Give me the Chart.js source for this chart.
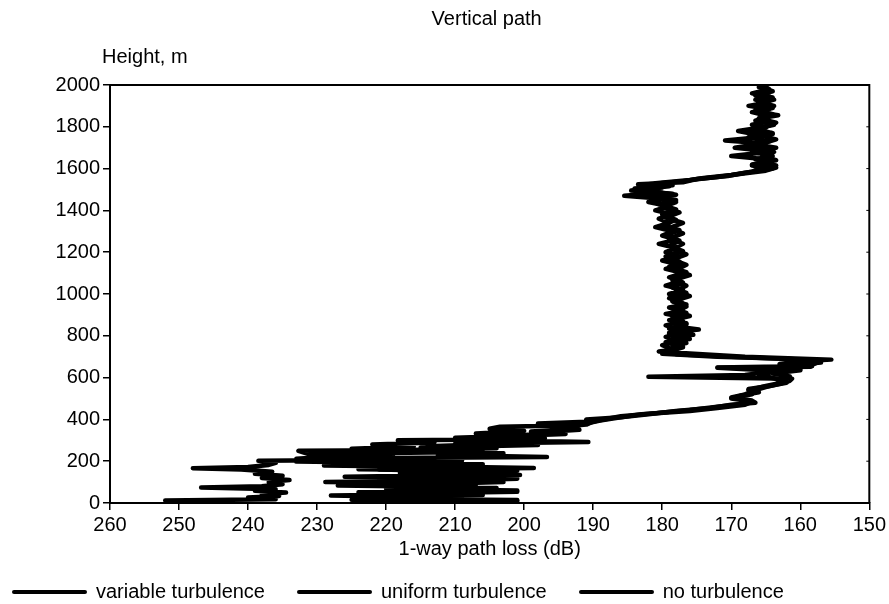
<!DOCTYPE html>
<html>
<head>
<meta charset="utf-8">
<title>Vertical path</title>
<script src="https://cdn.jsdelivr.net/npm/chart.js@4.4.1/dist/chart.umd.min.js"></script>
<style>
  body { margin: 0; background: #fff; }
  #wrap { position: relative; width: 889px; height: 604px; font-family: "Liberation Sans", Arial, sans-serif; }
  #legend { position: absolute; left: 12px; top: 580px; display: flex; gap: 32px; font-size: 20px; color: #000; }
  .item { display: flex; align-items: center; white-space: nowrap; }
  .swatch { width: 75px; height: 4px; background: #000; margin-right: 9px; border-radius: 2px; }
</style>
</head>
<body>
<div id="wrap">
  <canvas id="pathChart" width="889" height="604"></canvas>
  <div id="legend"></div>
</div>
<script>
// Text
const chartTitle = 'Vertical path';
const yTitle = 'Height, m';
const xTitle = '1-way path loss (dB)';
const seriesNames = ['variable turbulence', 'uniform turbulence', 'no turbulence'];

// Variable turbulence: height (m) and path loss (dB)
const heightVar = [12,18,26,34,42,50,58,66,74,80,90,100,110,120,130,140,150,160,166,172,
  182,192,202,206,212,220,232,250,254,260,270,280,290,300,304,312,322,332,345,355,
  365,372,380,390,400,410,
  425,440,455,470,480,490,505,520,540,555,570,585,595,604,612,625,640,648,655,665,
  678,686,700,715,725,735,745,755,765,775,785,795,805,815,830,845,860,875,890,905,
  920,935,950,965,980,1000,1020,1040,1060,1080,1100,1120,1140,1160,1180,1200,1220,1240,1260,1280,
  1300,1320,1340,1360,1380,1400,1420,1440,1455,1470,1485,1500,1515,1525,1540,1555,1570,1585,1600,1615,
  1630,1645,1660,1675,1690,1705,1720,1735,1750,1765,1780,1795,1810,1825,1840,1855,1870,1885,1900,1915,
  1930,1945,1960,1975,1990,2000];
const lossVar = [252,236,240,235.5,238,234.5,239,236,246.8,238,235,237,234,238,235,239,236.5,241,248,240,
  237,236,238.5,224,233,229,231,232.7,212,225,216,222,213,218.3,203,210,201,207,200,205,
  203.5,192,198,190,191,186,
  182,178,173,170,166.5,167,170,168,166.5,165,163,161.5,161.2,182,168,165,160,172,158.3,163,
  160,155.5,168,176,180.5,178,177,178.5,176.5,179,176,178.5,175.5,179,174.7,178,176.5,179,177,179.5,
  177,179,176.5,178.5,177,179,177,179.5,177.5,179,177,179.5,177.5,180,177.5,179.5,178,180.5,178,180,
  178.5,181,179,180.5,178.5,181,179,182,179.5,185.5,180,183.5,179,182,177,174,170,167,166,163.5,
  166,165,170,166,164.5,167,165,170.9,166,164,168,165,167,164.5,166,163.2,166,164.5,167.5,165,
  166.5,164.5,166,164.5,165.5,165];

// Uniform turbulence
const heightUni = [10,16,22,30,38,46,54,62,72,80,88,96,101,108,116,124,134,142,150,160,
  168,176,186,196,204,214,220,230,238,248,256,266,278,284,292,300,310,320,330,340,
  350,360,375,390,
  415,430,445,460,475,490,505,520,540,560,580,598,615,632,647,652,660,672,686,700,
  712,730,750,770,790,810,830,850,870,890,910,930,955,980,1005,1030,1055,1080,1105,1130,
  1155,1180,1205,1230,1255,1280,1305,1330,1355,1380,1405,1430,1450,1465,1480,1495,1510,1525,1535,1550,
  1565,1580,1600,1615,1630,1645,1660,1680,1700,1715,1730,1750,1770,1790,1810,1830,1850,1870,1890,1910,
  1930,1950,1970,1990,2000];
const lossUni = [201,225,209,222,206,218,201,214,204,216,207,212,228.8,210,201,219,200.6,213,206,221,
  198.6,215,206,222,209,226,196.7,212.5,203,218,206,215,198,210,190.7,205,197,202,194,197,
  192,196,191,190,
  186,181,176,172,168,168,169.5,167,167.5,165,162,164,166,163,172,158.5,161,157,160,170,
  178,179.5,177,179.5,177,179,177.5,179.5,177,178.5,176.5,178.5,177,179,176.5,178.5,177,178.5,176.5,179,
  177.5,179.5,177,179,177.5,179.5,177.5,180,178,180,178,180.5,178,182,178.5,184.5,180,183.5,177,175,
  170.5,168,164,167,164.5,166.5,164,167,163.5,166.5,164.5,167.5,164,166.5,163.8,166.5,164.5,167,164,166,
  163.8,166.5,164,166,165.5];

// No turbulence
const heightNone = [8,14,20,28,36,44,52,60,68,76,84,92,100,110,118,126,136,144,154,162,
  172,180,188,198,206,214,224,234,244,252,262,272,282,294,306,318,330,342,354,366,
  380,
  395,410,425,440,455,470,485,500,515,530,545,560,575,590,605,620,635,650,665,680,
  690,700,714,735,755,775,795,815,835,855,875,895,915,940,965,990,1015,1040,1065,1090,
  1115,1140,1165,1190,1215,1240,1265,1290,1315,1340,1365,1390,1415,1440,1460,1475,1490,1505,1520,1530,
  1545,1560,1575,1590,1605,1620,1640,1660,1680,1700,1720,1740,1760,1780,1800,1820,1840,1860,1880,1900,
  1920,1940,1960,1980,2000];
const lossNone = [208,201,224,214,228,207,224,201,220,210,227,212,203,221,207,226,204,218,201,224,
  211,229,209,233,213,230,219,231,208,219,204,214,204,209,199,205,197,199,193,195,
  191,
  189,186,183,176,172,168,167,170,168.5,166,167.5,164.5,162,163,161.5,164,160,161,158,157,
  162,172,180,178.5,180,177.5,179.5,177,179,176.5,178.5,176,178,176.5,178.5,176,178,176.5,178.5,176,
  178,176.5,178.5,176.5,178.5,177,179,177,179,177,179.5,177.5,180,178,180.5,178,181.5,184,178.5,181,
  176,172,168.5,165,163.5,167,163.5,165.5,163.8,169.5,165.5,163.5,166,169,165,163.5,166,164,166.5,163.8,
  166,164,167,164.5,165.5];

const fontFamily = '"Liberation Sans", Arial, sans-serif';
Chart.defaults.font.family = fontFamily;
Chart.defaults.font.size = 20;
Chart.defaults.color = '#000';

function toPoints(heights, losses) {
    return heights.map((h, i) => ({ x: losses[i], y: h }));
}

function traceDataset(label, heights, losses) {
    return {
        label: label,
        data: toPoints(heights, losses),
        showLine: true,
        pointRadius: 0,
        borderColor: '#000',
        backgroundColor: '#000',
        borderWidth: 4.5,
        borderJoinStyle: 'round',
        borderCapStyle: 'round',
        tension: 0
    };
}

// Box frame on top/right, small inner ticks on the right edge, title and y label
const frameAndLabels = {
    id: 'frameAndLabels',
    afterDraw(chart) {
        const { ctx, chartArea: a, scales } = chart;
        ctx.save();
        ctx.strokeStyle = '#000';
        ctx.lineWidth = 2;
        ctx.beginPath();
        ctx.moveTo(a.left, a.top);
        ctx.lineTo(a.right, a.top);
        ctx.lineTo(a.right, a.bottom);
        ctx.stroke();

        ctx.lineWidth = 1;
        scales.y.ticks.forEach(t => {
            const y = scales.y.getPixelForValue(t.value);
            ctx.beginPath();
            ctx.moveTo(a.right - 3, y);
            ctx.lineTo(a.right, y);
            ctx.stroke();
        });

        ctx.fillStyle = '#000';
        ctx.font = '20px ' + fontFamily;
        ctx.textBaseline = 'alphabetic';
        ctx.textAlign = 'center';
        ctx.fillText(chartTitle, (a.left + a.right) / 2 - 3, 25);
        ctx.textAlign = 'left';
        ctx.fillText(yTitle, 102, 63);
        ctx.restore();
    }
};

const ctx = document.getElementById('pathChart').getContext('2d');
const pathChart = new Chart(ctx, {
    type: 'scatter',
    data: {
        datasets: [
            traceDataset(seriesNames[0], heightVar, lossVar),
            traceDataset(seriesNames[1], heightUni, lossUni),
            traceDataset(seriesNames[2], heightNone, lossNone)
        ]
    },
    options: {
        responsive: false,
        animation: false,
        devicePixelRatio: 1,
        layout: { padding: { top: 85, right: 17, bottom: 0, left: 0 } },
        plugins: {
            legend: { display: false },
            tooltip: { enabled: false }
        },
        scales: {
            x: {
                type: 'linear',
                reverse: true,
                min: 150,
                max: 260,
                ticks: {
                    stepSize: 10, padding: 3, maxRotation: 0, color: '#000',
                    callback: function(value) { return String(value); }
                },
                grid: { drawOnChartArea: false, color: '#000', lineWidth: 1.5, tickLength: 7 },
                border: { color: '#000', width: 2 },
                title: {
                    display: true,
                    text: xTitle,
                    color: '#000',
                    padding: { top: 0, bottom: 43 }
                },
                afterFit: function(scale) { scale.height = 101; }
            },
            y: {
                type: 'linear',
                min: 0,
                max: 2000,
                ticks: {
                    stepSize: 200, padding: 3, color: '#000',
                    callback: function(value) { return String(value); }
                },
                grid: { drawOnChartArea: false, color: '#000', lineWidth: 1.5, tickLength: 7 },
                border: { color: '#000', width: 2 },
                afterFit: function(scale) { scale.width = 110; }
            }
        }
    },
    plugins: [frameAndLabels]
});

// Legend below the chart
const legendBox = document.getElementById('legend');
pathChart.data.datasets.forEach(ds => {
    const item = document.createElement('div');
    item.className = 'item';
    item.innerHTML = '<span class="swatch"></span><span>' + ds.label + '</span>';
    legendBox.appendChild(item);
});
</script>
</body>
</html>
